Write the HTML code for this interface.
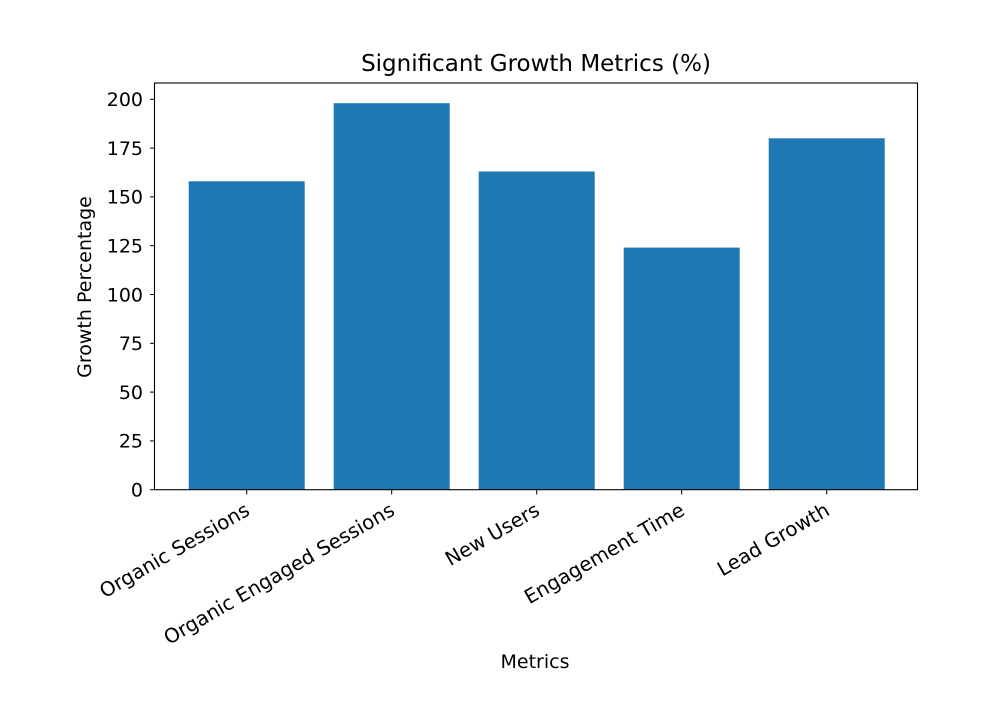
<!DOCTYPE html>
<html><head><style>body{margin:0;background:#fff}</style></head><body>
<svg width="995" height="702" xmlns="http://www.w3.org/2000/svg" font-family="DejaVu Sans, sans-serif" fill="#262626">
<rect width="995" height="702" fill="#fff"/>
<g fill="#1f77b4">
<rect x="188.7" y="181.3" width="116" height="308.4"/>
<rect x="333.7" y="103.2" width="116" height="386.5"/>
<rect x="478.7" y="171.5" width="116" height="318.2"/>
<rect x="623.7" y="247.6" width="116" height="242.1"/>
<rect x="768.7" y="138.3" width="116" height="351.4"/>
</g>
<rect x="154.5" y="83" width="763" height="406.7" fill="none" stroke="#000" stroke-width="1.1"/>
<g stroke="#000" stroke-width="1">
<line x1="150" x2="154.5" y1="489.7" y2="489.7"/><line x1="150" x2="154.5" y1="440.9" y2="440.9"/>
<line x1="150" x2="154.5" y1="392.1" y2="392.1"/><line x1="150" x2="154.5" y1="343.3" y2="343.3"/>
<line x1="150" x2="154.5" y1="294.5" y2="294.5"/><line x1="150" x2="154.5" y1="245.7" y2="245.7"/>
<line x1="150" x2="154.5" y1="196.9" y2="196.9"/><line x1="150" x2="154.5" y1="148.1" y2="148.1"/>
<line x1="150" x2="154.5" y1="99.3" y2="99.3"/>
<line x1="246.7" x2="246.7" y1="489.7" y2="494.5"/><line x1="391.7" x2="391.7" y1="489.7" y2="494.5"/>
<line x1="536.7" x2="536.7" y1="489.7" y2="494.5"/><line x1="681.7" x2="681.7" y1="489.7" y2="494.5"/>
<line x1="826.7" x2="826.7" y1="489.7" y2="494.5"/>
</g>
<g font-size="19" text-anchor="end" fill="#000">
<text x="143" y="496.5">0</text><text x="143" y="447.7">25</text><text x="143" y="398.9">50</text>
<text x="143" y="350.1">75</text><text x="143" y="301.3">100</text><text x="143" y="252.5">125</text>
<text x="143" y="203.7">150</text><text x="143" y="154.9">175</text><text x="143" y="106.1">200</text>
</g>
<g font-size="19.8" text-anchor="end" fill="#000">
<text transform="translate(251,514) rotate(-30)">Organic Sessions</text>
<text transform="translate(396,514) rotate(-30)">Organic Engaged Sessions</text>
<text transform="translate(541,514) rotate(-30)">New Users</text>
<text transform="translate(686,514) rotate(-30)">Engagement Time</text>
<text transform="translate(831,514) rotate(-30)">Lead Growth</text>
</g>
<text x="535" y="668" font-size="19" text-anchor="middle" fill="#000">Metrics</text>
<text transform="translate(91,287) rotate(-90)" font-size="19" text-anchor="middle" fill="#000">Growth Percentage</text>
<text x="536" y="71" font-size="23" text-anchor="middle" fill="#000">Significant Growth Metrics (%)</text>
</svg>
</body></html>
